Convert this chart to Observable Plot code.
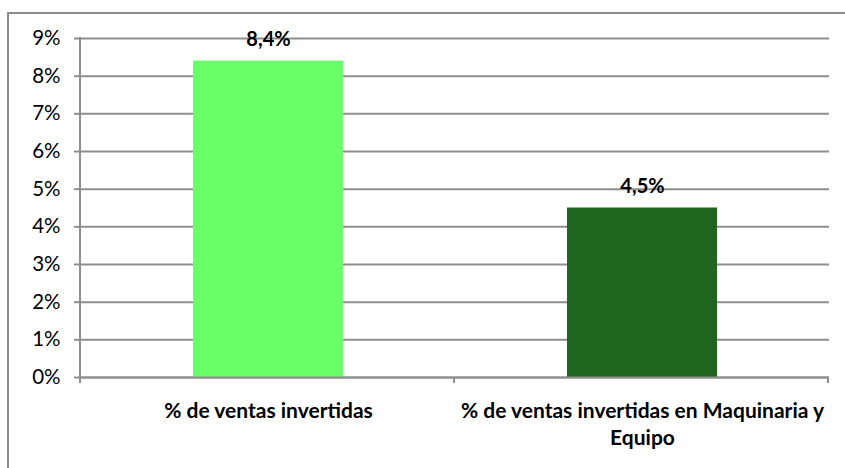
<!DOCTYPE html>
<html>
<head>
<meta charset="utf-8">
<script src="https://cdn.jsdelivr.net/npm/d3@7"></script>
<script src="https://cdn.jsdelivr.net/npm/@observablehq/plot@0.6"></script>
<style>
  html, body { margin: 0; padding: 0; background: #fff; overflow: hidden; }
  #wrap { position: relative; width: 845px; height: 468px; }
  #border { position: absolute; left: 7px; top: 12px; width: 900px; height: 500px;
            border-left: 2px solid #8c8c8c; border-top: 2px solid #8c8c8c; box-sizing: border-box; }
  #chart { position: absolute; left: 0; top: 0; }
</style>
</head>
<body>
<div id="wrap"><div id="border"></div><div id="chart"></div></div>
<script>
const categories = ["% de ventas invertidas", "% de ventas invertidas en Maquinaria y Equipo"];
const values = [8.4, 4.5];
const colors = ["#68ff68", "#1e661e"];
const yTicks = [0, 1, 2, 3, 4, 5, 6, 7, 8, 9];

const data = categories.map((c, i) => ({category: c, value: values[i], color: colors[i]}));
const fmtVal = v => d3.format(".1f")(v).replace(".", ",") + "%";
const gray = "#8e8e8e";
const font = "Lato, 'Open Sans', sans-serif";

const plot = Plot.plot({
  width: 845,
  height: 468,
  marginLeft: 80,
  marginRight: 16,
  marginTop: 38,
  marginBottom: 91,
  style: {fontFamily: font, background: "transparent", overflow: "visible"},
  x: {domain: categories, paddingInner: 0.6, paddingOuter: 0.3, label: null},
  y: {domain: [0, 9], label: null},
  marks: [
    Plot.ruleY(yTicks, {stroke: gray, strokeWidth: 2}),
    Plot.barY(data, {x: "category", y: "value", fill: "color"}),
    Plot.ruleY([0], {stroke: gray, strokeWidth: 2}),
    Plot.text(data, {x: "category", y: "value", text: d => fmtVal(d.value), lineAnchor: "bottom", dy: -15,
      fontWeight: "bold", fontSize: 20, fill: "#000"}),
    Plot.axisY({ticks: yTicks, tickFormat: d => d + "%", tickSize: 6, tickPadding: 14,
      stroke: gray, strokeWidth: 2, strokeOpacity: 1, fontSize: 20.5, fill: "#000"}),
    Plot.axisX({tickSize: 0, tickPadding: 22, fontSize: 21, fontWeight: "bold", fill: "#000",
      lineHeight: 1.27, tickFormat: d => d.replace(" Equipo", "\nEquipo")})
  ]
});

// Axis line and category boundary ticks drawn from the plot's own scales
const xs = plot.scale("x"), ys = plot.scale("y");
const svg = d3.select(plot);
const [r0] = xs.range;
const y0 = ys.apply(0), yTop = ys.apply(yTicks[yTicks.length - 1]);
const g = svg.append("g").attr("stroke", gray).attr("stroke-width", 2);
g.append("line").attr("x1", r0).attr("x2", r0).attr("y1", yTop - 1).attr("y2", y0 + 6);
const bounds = [r0, ...categories.map((c, i) => r0 + (i + 1) * xs.step)];
bounds.forEach(b => g.append("line").attr("x1", b).attr("x2", b).attr("y1", y0).attr("y2", y0 + 6));

document.getElementById("chart").appendChild(plot);
</script>
</body>
</html>
